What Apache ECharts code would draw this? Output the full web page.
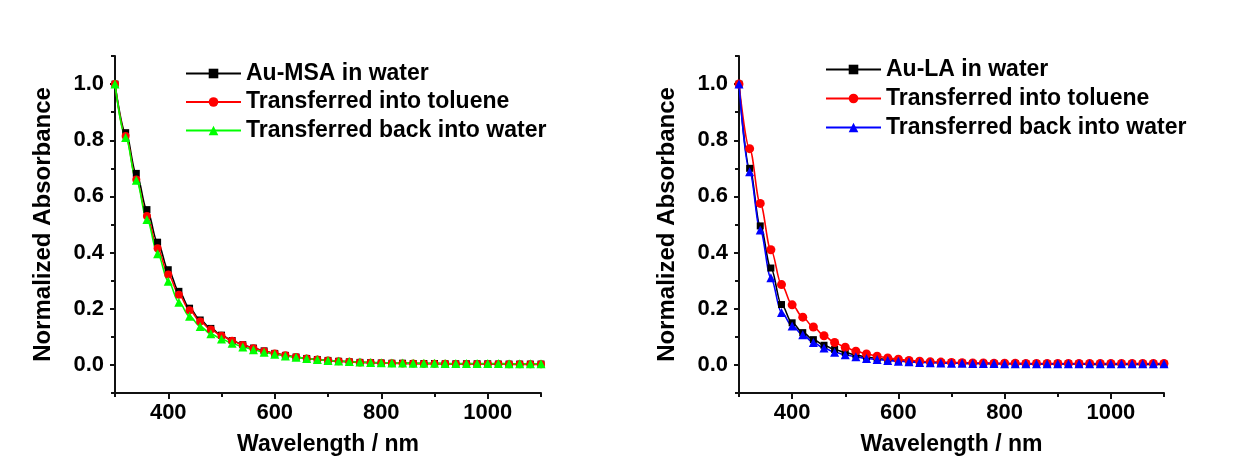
<!DOCTYPE html>
<html>
<head>
<meta charset="utf-8">
<script src="https://cdn.jsdelivr.net/npm/echarts@6/dist/echarts.min.js"></script>
<style>
html,body{margin:0;padding:0;background:#fff;}
#chart{width:1241px;height:465px;}
</style>
</head>
<body>
<div id="chart"></div>
<script>
// Wavelengths (nm)
const wavelengths = [300,320,340,360,380,400,420,440,460,480,500,520,540,560,580,600,620,640,660,680,700,720,740,760,780,800,820,840,860,880,900,920,940,960,980,1000,1020,1040,1060,1080,1100];

// Left panel: Au-MSA
const msaWater    = [1.000,0.827,0.682,0.553,0.437,0.339,0.262,0.202,0.160,0.130,0.106,0.087,0.072,0.060,0.050,0.041,0.034,0.028,0.023,0.019,0.016,0.013,0.011,0.009,0.008,0.007,0.006,0.006,0.005,0.005,0.005,0.004,0.004,0.004,0.004,0.004,0.003,0.003,0.003,0.003,0.003];
const msaToluene  = [1.000,0.815,0.660,0.530,0.415,0.322,0.250,0.195,0.155,0.126,0.104,0.086,0.071,0.059,0.049,0.041,0.034,0.028,0.023,0.019,0.016,0.013,0.011,0.009,0.008,0.007,0.006,0.005,0.005,0.004,0.004,0.004,0.003,0.003,0.003,0.003,0.003,0.002,0.002,0.002,0.002];
const msaBack     = [1.000,0.810,0.658,0.518,0.396,0.298,0.223,0.173,0.137,0.111,0.092,0.077,0.064,0.054,0.045,0.038,0.032,0.027,0.023,0.019,0.016,0.014,0.012,0.010,0.009,0.008,0.007,0.007,0.006,0.006,0.006,0.005,0.005,0.005,0.005,0.005,0.005,0.004,0.004,0.004,0.004];

// Right panel: Au-LA
const laWater     = [1.000,0.700,0.495,0.345,0.215,0.150,0.115,0.090,0.070,0.055,0.044,0.035,0.028,0.023,0.019,0.015,0.012,0.010,0.009,0.008,0.007,0.006,0.005,0.005,0.004,0.004,0.004,0.003,0.003,0.003,0.003,0.003,0.003,0.002,0.002,0.002,0.002,0.002,0.002,0.002,0.002];
const laToluene   = [1.000,0.770,0.575,0.410,0.286,0.214,0.170,0.135,0.104,0.080,0.063,0.049,0.039,0.031,0.025,0.020,0.016,0.013,0.011,0.010,0.009,0.008,0.007,0.007,0.006,0.006,0.006,0.005,0.005,0.005,0.005,0.005,0.005,0.005,0.005,0.005,0.005,0.005,0.005,0.005,0.005];
const laBack      = [1.000,0.688,0.480,0.310,0.187,0.139,0.107,0.080,0.060,0.045,0.036,0.029,0.023,0.019,0.016,0.013,0.011,0.009,0.008,0.007,0.006,0.006,0.005,0.005,0.005,0.004,0.004,0.004,0.004,0.004,0.004,0.004,0.004,0.004,0.004,0.004,0.004,0.004,0.004,0.004,0.004];

// Tick values
const xMajorTicks = [400,600,800,1000];
const xMinorTicks = [300,500,700,900,1100];
const yMajorTicks = [0,0.2,0.4,0.6,0.8,1.0];
const yMinorTicks = [-0.1,0.1,0.3,0.5,0.7,0.9,1.1];

const leftNames  = ['Au-MSA in water','Transferred into toluene','Transferred back into water'];
const rightNames = ['Au-LA in water','Transferred into toluene','Transferred back into water'];

const FONT = '"Liberation Sans", Arial, Helvetica, sans-serif';
const AXIS_COLOR = '#111';

function pairs(ys){ return wavelengths.map((x,i)=>[x, ys[i]]); }

function xAxes(gi){
  return [
    {
      gridIndex: gi, type:'value', min:300, max:1100, interval:100, position:'bottom',
      name:'Wavelength / nm', nameLocation:'middle', nameGap:40,
      nameTextStyle:{fontFamily:FONT,fontWeight:'bold',fontSize:23,color:'#000'},
      axisLine:{show:true,onZero:false,lineStyle:{color:AXIS_COLOR,width:2}},
      axisTick:{show:true,inside:false,length:6,customValues:xMajorTicks,lineStyle:{color:AXIS_COLOR,width:2}},
      axisLabel:{show:true,margin:9,customValues:xMajorTicks,fontFamily:FONT,fontWeight:'bold',fontSize:22,color:'#000',
        formatter:v=>String(Math.round(v))},
      splitLine:{show:false}
    },
    {
      gridIndex: gi, type:'value', min:300, max:1100, interval:100, position:'bottom',
      axisLine:{show:false,onZero:false},
      axisTick:{show:true,length:4,customValues:xMinorTicks,lineStyle:{color:AXIS_COLOR,width:2}},
      axisLabel:{show:false},
      splitLine:{show:false}
    }
  ];
}
function yAxes(gi){
  return [
    {
      gridIndex: gi, type:'value', min:-0.1, max:1.1, interval:0.1, position:'left',
      name:'Normalized Absorbance', nameLocation:'middle', nameGap:60,
      nameTextStyle:{fontFamily:FONT,fontWeight:'bold',fontSize:24,color:'#000'},
      axisLine:{show:true,onZero:false,lineStyle:{color:AXIS_COLOR,width:2}},
      axisTick:{show:true,length:5,customValues:yMajorTicks,lineStyle:{color:AXIS_COLOR,width:2}},
      axisLabel:{show:true,margin:11,customValues:yMajorTicks,fontFamily:FONT,fontWeight:'bold',fontSize:22,color:'#000',
        formatter:v=>Number(v).toFixed(1)},
      splitLine:{show:false}
    },
    {
      gridIndex: gi, type:'value', min:-0.1, max:1.1, interval:0.1, position:'left',
      axisLine:{show:false,onZero:false},
      axisTick:{show:true,length:4,customValues:yMinorTicks,lineStyle:{color:AXIS_COLOR,width:2}},
      axisLabel:{show:false},
      splitLine:{show:false}
    }
  ];
}

function ser(name, ys, color, symbol, size, xi, yi){
  return {
    name, type:'line', xAxisIndex:xi, yAxisIndex:yi, data:pairs(ys),
    symbol, symbolSize:size, showAllSymbol:true,
    smooth:0.35, smoothMonotone:'x',
    lineStyle:{color, width:1.6}, itemStyle:{color, borderWidth:0},
    emphasis:{disabled:true}, animation:false
  };
}

const legendText = {fontFamily:FONT,fontWeight:'bold',fontSize:23,color:'#000',lineHeight:23};

const option = {
  backgroundColor:'#fff',
  animation:false,
  grid:[
    {left:115, top:56, width:426, height:337, containLabel:false},
    {left:739, top:56, width:425, height:337, containLabel:false}
  ],
  xAxis:[...xAxes(0), ...xAxes(1)],
  yAxis:[...yAxes(0), ...yAxes(1)],
  legend:[
    {data:leftNames.map(n=>({name:n})), orient:'vertical', left:185, top:62, padding:0, itemWidth:55, itemHeight:12, itemGap:5.5,
     textStyle:legendText, selectedMode:false},
    {data:rightNames.map(n=>({name:n+' '})), orient:'vertical', left:825, top:58, padding:0, itemWidth:55, itemHeight:12, itemGap:6,
     textStyle:legendText, selectedMode:false, formatter:n=>n.trim()}
  ],
  series:[
    ser(leftNames[0], msaWater,   '#000000','rect',7,0,0),
    ser(leftNames[1], msaToluene, '#ff0000','circle',8,0,0),
    ser(leftNames[2], msaBack,    '#00ff00','triangle',9,0,0),
    // right-panel names get a trailing space to stay distinct from the left-panel series
    ser(rightNames[0]+' ', laWater,   '#000000','rect',7,2,2),
    ser(rightNames[1]+' ', laToluene, '#ff0000','circle',9,2,2),
    ser(rightNames[2]+' ', laBack,    '#0000ff','triangle',9,2,2)
  ]
};

const chart = echarts.init(document.getElementById('chart'), null, {renderer:'canvas'});
chart.setOption(option);
</script>
</body>
</html>
